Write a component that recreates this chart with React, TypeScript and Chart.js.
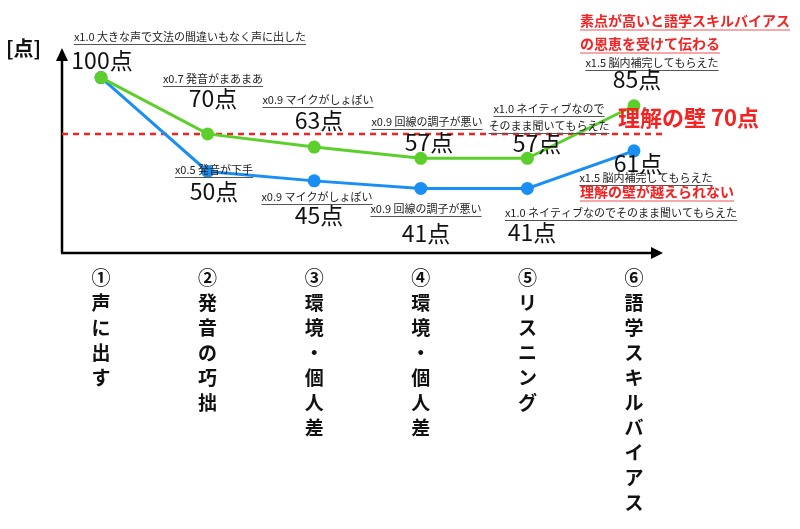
import React, { useEffect, useRef } from "react";
import { Chart, registerables } from "chart.js";

Chart.register(...registerables);

// ---------- data ----------
const categories = ["①声に出す", "②発音の巧拙", "③環境・個人差", "④環境・個人差", "⑤リスニング", "⑥語学スキルバイアス"];
const highValues = [100, 70, 63, 57, 57, 85];
const lowValues = [100, 50, 45, 41, 41, 61];
const highNotes = [
  "x1.0 大きな声で文法の間違いもなく声に出した",
  "x0.7 発音がまあまあ",
  "x0.9 マイクがしょぼい",
  "x0.9 回線の調子が悪い",
  "x1.0 ネイティブなので\nそのまま聞いてもらえた",
  "x1.5 脳内補完してもらえた",
];
const lowNotes = [
  "",
  "x0.5 発音が下手",
  "x0.9 マイクがしょぼい",
  "x0.9 回線の調子が悪い",
  "x1.0 ネイティブなのでそのまま聞いてもらえた",
  "x1.5 脳内補完してもらえた",
];
const wallValue = 70;
const wallLabel = "理解の壁 70点";
const yUnit = "[点]";
const highComment = ["素点が高いと語学スキルバイアス", "の恩恵を受けて伝わる"];
const lowComment = "理解の壁が越えられない";

// ---------- layout (text placement) ----------
const FONT = '"Noto Sans CJK JP", "Noto Sans", sans-serif';
const highNotePos = [[190, 37], [213, 79], [318, 100], [427, 122], [549, 109], [652, 63]];
const highScorePos = [[102, 60], [213, 98], [319, 120], [429, 142], [537, 143], [637, 79]];
const lowNotePos = [null, [214, 170], [317, 197], [426, 209], [621, 213], [646, 178]];
const lowScorePos = [null, [214, 191], [319, 215], [426, 233], [532, 232], [638, 163]];

const GREEN = "#5ccf2c";
const BLUE = "#1a8ff3";
const RED = "#f52222";
const PINK = "#f6a9a9";

function drawNote(ctx: CanvasRenderingContext2D, text: string, cx: number, cy: number) {
  const lines = text.split("\n");
  ctx.font = `11px ${FONT}`;
  ctx.fillStyle = "#222";
  ctx.textAlign = "center";
  ctx.textBaseline = "middle";
  lines.forEach((ln, k) => {
    const y = cy + k * 17;
    ctx.fillText(ln, cx, y);
    const w = ctx.measureText(ln).width;
    ctx.strokeStyle = "#555";
    ctx.lineWidth = 1;
    ctx.beginPath();
    ctx.moveTo(cx - w / 2, Math.round(y + 7) + 0.5);
    ctx.lineTo(cx + w / 2, Math.round(y + 7) + 0.5);
    ctx.stroke();
  });
}

function drawScore(ctx: CanvasRenderingContext2D, text: string, cx: number, cy: number) {
  ctx.font = `23px ${FONT}`;
  ctx.fillStyle = "#111";
  ctx.textAlign = "center";
  ctx.textBaseline = "middle";
  ctx.fillText(text, cx, cy);
}

function drawRed(ctx: CanvasRenderingContext2D, text: string, x: number, cy: number, size: number, underline: boolean) {
  ctx.font = `bold ${size}px ${FONT}`;
  ctx.fillStyle = RED;
  ctx.textAlign = "left";
  ctx.textBaseline = "middle";
  ctx.fillText(text, x, cy);
  if (underline) {
    const w = ctx.measureText(text).width;
    ctx.strokeStyle = PINK;
    ctx.lineWidth = 2;
    ctx.beginPath();
    ctx.moveTo(x, cy + 9);
    ctx.lineTo(x + w, cy + 9);
    ctx.stroke();
  }
}

const decorPlugin = {
  id: "decor",
  beforeDatasetsDraw(chart: any) {
    const { ctx, chartArea, scales } = chart;
    const ys = scales.y;
    ctx.save();
    // axes
    ctx.strokeStyle = "#000";
    ctx.fillStyle = "#000";
    ctx.lineWidth = 2.5;
    const x0 = chartArea.left;
    const y0 = chartArea.bottom;
    ctx.beginPath();
    ctx.moveTo(x0, y0);
    ctx.lineTo(x0, 58);
    ctx.moveTo(x0 - 1, y0);
    ctx.lineTo(chartArea.right - 10, y0);
    ctx.stroke();
    ctx.beginPath();
    ctx.moveTo(x0, 48);
    ctx.lineTo(x0 - 6, 61);
    ctx.lineTo(x0 + 6, 61);
    ctx.closePath();
    ctx.fill();
    ctx.beginPath();
    ctx.moveTo(chartArea.right + 1, y0);
    ctx.lineTo(chartArea.right - 11, y0 - 6);
    ctx.lineTo(chartArea.right - 11, y0 + 6);
    ctx.closePath();
    ctx.fill();
    // wall line
    const wy = ys.getPixelForValue(wallValue);
    ctx.strokeStyle = RED;
    ctx.lineWidth = 2.5;
    ctx.setLineDash([6, 5]);
    ctx.beginPath();
    ctx.moveTo(x0, wy);
    ctx.lineTo(chartArea.right + 3, wy);
    ctx.stroke();
    ctx.setLineDash([]);
    ctx.restore();
  },
  afterDatasetsDraw(chart: any) {
    const { ctx, scales } = chart;
    const xs = scales.x;
    ctx.save();
    // unit
    ctx.font = `bold 20px ${FONT}`;
    ctx.fillStyle = "#111";
    ctx.textAlign = "left";
    ctx.textBaseline = "middle";
    ctx.fillText(yUnit, 6, 48);
    // notes and scores
    highValues.forEach((v, i) => {
      const np = highNotePos[i];
      if (highNotes[i]) drawNote(ctx, highNotes[i], np[0], np[1]);
      const sp = highScorePos[i];
      drawScore(ctx, `${v}点`, sp[0], sp[1]);
    });
    lowValues.forEach((v, i) => {
      const np = lowNotePos[i];
      const sp = lowScorePos[i];
      if (!np || !sp) return;
      if (lowNotes[i]) drawNote(ctx, lowNotes[i], np[0], np[1]);
      drawScore(ctx, `${v}点`, sp[0], sp[1]);
    });
    // red comments
    drawRed(ctx, highComment[0], 580, 21, 14, true);
    drawRed(ctx, highComment[1], 580, 44, 14, true);
    drawRed(ctx, wallLabel, 618, 118, 22, false);
    drawRed(ctx, lowComment, 580, 192, 14, true);
    // category labels (vertical)
    ctx.font = `bold 19px ${FONT}`;
    ctx.fillStyle = "#111";
    ctx.textAlign = "center";
    ctx.textBaseline = "middle";
    categories.forEach((c, i) => {
      const cx = xs.getPixelForValue(i);
      Array.from(c).forEach((ch, k) => {
        ctx.fillText(ch, cx, 278 + k * 25);
      });
    });
    ctx.restore();
  },
};

export default function App() {
  const ref = useRef<HTMLCanvasElement | null>(null);
  useEffect(() => {
    if (!ref.current) return;
    const chart = new Chart(ref.current, {
      type: "line",
      data: {
        datasets: [
          {
            label: "high",
            data: highValues.map((v, i) => ({ x: i, y: v })),
            borderColor: GREEN,
            backgroundColor: GREEN,
            pointBackgroundColor: GREEN,
            pointBorderWidth: 0,
            pointRadius: 6.5,
            borderWidth: 3,
            clip: false,
          },
          {
            label: "low",
            data: lowValues.map((v, i) => ({ x: i, y: v })),
            borderColor: BLUE,
            backgroundColor: BLUE,
            pointBackgroundColor: BLUE,
            pointBorderWidth: 0,
            pointRadius: 6.5,
            borderWidth: 3,
            clip: false,
          },
        ],
      },
      options: {
        animation: false,
        responsive: false,
        devicePixelRatio: 1,
        layout: { padding: { left: 62, right: 138, top: 40, bottom: 276 } },
        plugins: { legend: { display: false }, tooltip: { enabled: false } },
        scales: {
          x: { type: "linear", min: -0.366, max: 5.263, display: false },
          y: { type: "linear", min: 6.6, max: 120, display: false },
        },
      },
      plugins: [decorPlugin],
    } as any);
    return () => chart.destroy();
  }, []);
  return (
    <div style={{ position: "absolute", left: 0, top: 0, width: 800, height: 529, background: "#fff" }}>
      <canvas ref={ref} width={800} height={529} />
    </div>
  );
}
